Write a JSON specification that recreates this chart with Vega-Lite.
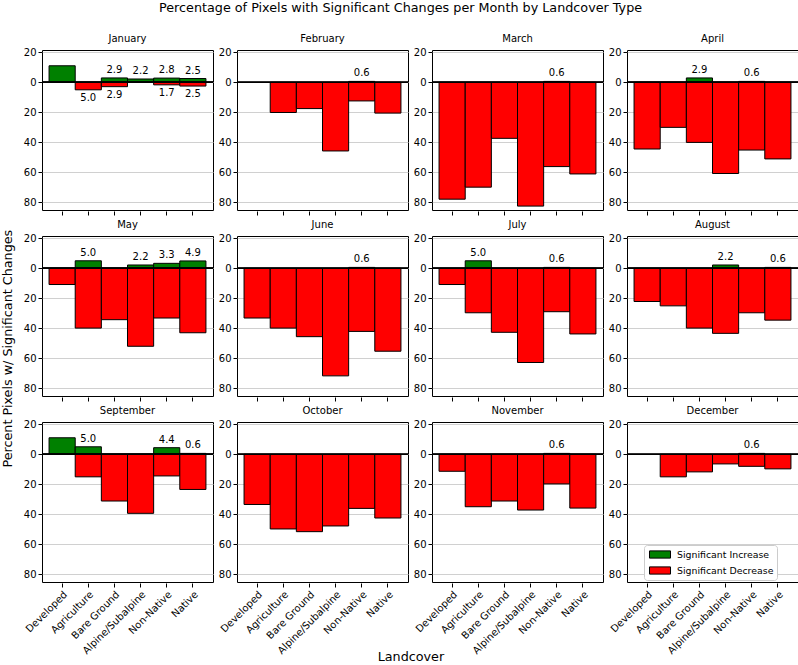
{
  "$schema": "https://vega.github.io/schema/vega-lite/v6.json",
  "padding": {"left": 2, "top": 2, "right": 0, "bottom": 0},
  "background": "white",
  "data": {"values": [
    {"month": "January", "landcover": "Developed", "change": "Significant Increase", "pct": 11.0},
    {"month": "January", "landcover": "Agriculture", "change": "Significant Decrease", "pct": -5.0},
    {"month": "January", "landcover": "Bare Ground", "change": "Significant Increase", "pct": 2.9},
    {"month": "January", "landcover": "Bare Ground", "change": "Significant Decrease", "pct": -2.9},
    {"month": "January", "landcover": "Alpine/Subalpine", "change": "Significant Increase", "pct": 2.2},
    {"month": "January", "landcover": "Non-Native", "change": "Significant Increase", "pct": 2.8},
    {"month": "January", "landcover": "Non-Native", "change": "Significant Decrease", "pct": -1.7},
    {"month": "January", "landcover": "Native", "change": "Significant Increase", "pct": 2.5},
    {"month": "January", "landcover": "Native", "change": "Significant Decrease", "pct": -2.5},
    {"month": "February", "landcover": "Agriculture", "change": "Significant Decrease", "pct": -20.1},
    {"month": "February", "landcover": "Bare Ground", "change": "Significant Decrease", "pct": -17.5},
    {"month": "February", "landcover": "Alpine/Subalpine", "change": "Significant Decrease", "pct": -45.7},
    {"month": "February", "landcover": "Non-Native", "change": "Significant Increase", "pct": 0.6},
    {"month": "February", "landcover": "Non-Native", "change": "Significant Decrease", "pct": -12.4},
    {"month": "February", "landcover": "Native", "change": "Significant Decrease", "pct": -20.5},
    {"month": "March", "landcover": "Developed", "change": "Significant Decrease", "pct": -77.8},
    {"month": "March", "landcover": "Agriculture", "change": "Significant Decrease", "pct": -69.8},
    {"month": "March", "landcover": "Bare Ground", "change": "Significant Decrease", "pct": -37.3},
    {"month": "March", "landcover": "Alpine/Subalpine", "change": "Significant Decrease", "pct": -82.4},
    {"month": "March", "landcover": "Non-Native", "change": "Significant Increase", "pct": 0.6},
    {"month": "March", "landcover": "Non-Native", "change": "Significant Decrease", "pct": -56.1},
    {"month": "March", "landcover": "Native", "change": "Significant Decrease", "pct": -61.0},
    {"month": "April", "landcover": "Developed", "change": "Significant Decrease", "pct": -44.4},
    {"month": "April", "landcover": "Agriculture", "change": "Significant Decrease", "pct": -30.0},
    {"month": "April", "landcover": "Bare Ground", "change": "Significant Increase", "pct": 2.9},
    {"month": "April", "landcover": "Bare Ground", "change": "Significant Decrease", "pct": -40.0},
    {"month": "April", "landcover": "Alpine/Subalpine", "change": "Significant Decrease", "pct": -60.7},
    {"month": "April", "landcover": "Non-Native", "change": "Significant Increase", "pct": 0.6},
    {"month": "April", "landcover": "Non-Native", "change": "Significant Decrease", "pct": -45.1},
    {"month": "April", "landcover": "Native", "change": "Significant Decrease", "pct": -51.0},
    {"month": "May", "landcover": "Developed", "change": "Significant Decrease", "pct": -10.8},
    {"month": "May", "landcover": "Agriculture", "change": "Significant Increase", "pct": 5.0},
    {"month": "May", "landcover": "Agriculture", "change": "Significant Decrease", "pct": -39.8},
    {"month": "May", "landcover": "Bare Ground", "change": "Significant Decrease", "pct": -34.2},
    {"month": "May", "landcover": "Alpine/Subalpine", "change": "Significant Increase", "pct": 2.2},
    {"month": "May", "landcover": "Alpine/Subalpine", "change": "Significant Decrease", "pct": -51.9},
    {"month": "May", "landcover": "Non-Native", "change": "Significant Increase", "pct": 3.3},
    {"month": "May", "landcover": "Non-Native", "change": "Significant Decrease", "pct": -33.1},
    {"month": "May", "landcover": "Native", "change": "Significant Increase", "pct": 4.9},
    {"month": "May", "landcover": "Native", "change": "Significant Decrease", "pct": -42.9},
    {"month": "June", "landcover": "Developed", "change": "Significant Decrease", "pct": -33.1},
    {"month": "June", "landcover": "Agriculture", "change": "Significant Decrease", "pct": -39.8},
    {"month": "June", "landcover": "Bare Ground", "change": "Significant Decrease", "pct": -45.5},
    {"month": "June", "landcover": "Alpine/Subalpine", "change": "Significant Decrease", "pct": -71.6},
    {"month": "June", "landcover": "Non-Native", "change": "Significant Increase", "pct": 0.6},
    {"month": "June", "landcover": "Non-Native", "change": "Significant Decrease", "pct": -42.0},
    {"month": "June", "landcover": "Native", "change": "Significant Decrease", "pct": -55.2},
    {"month": "July", "landcover": "Developed", "change": "Significant Decrease", "pct": -10.8},
    {"month": "July", "landcover": "Agriculture", "change": "Significant Increase", "pct": 5.0},
    {"month": "July", "landcover": "Agriculture", "change": "Significant Decrease", "pct": -29.6},
    {"month": "July", "landcover": "Bare Ground", "change": "Significant Decrease", "pct": -42.6},
    {"month": "July", "landcover": "Alpine/Subalpine", "change": "Significant Decrease", "pct": -62.7},
    {"month": "July", "landcover": "Non-Native", "change": "Significant Increase", "pct": 0.6},
    {"month": "July", "landcover": "Non-Native", "change": "Significant Decrease", "pct": -28.9},
    {"month": "July", "landcover": "Native", "change": "Significant Decrease", "pct": -43.7},
    {"month": "August", "landcover": "Developed", "change": "Significant Decrease", "pct": -22.1},
    {"month": "August", "landcover": "Agriculture", "change": "Significant Decrease", "pct": -25.0},
    {"month": "August", "landcover": "Bare Ground", "change": "Significant Decrease", "pct": -39.8},
    {"month": "August", "landcover": "Alpine/Subalpine", "change": "Significant Increase", "pct": 2.2},
    {"month": "August", "landcover": "Alpine/Subalpine", "change": "Significant Decrease", "pct": -43.3},
    {"month": "August", "landcover": "Non-Native", "change": "Significant Decrease", "pct": -29.6},
    {"month": "August", "landcover": "Native", "change": "Significant Increase", "pct": 0.6},
    {"month": "August", "landcover": "Native", "change": "Significant Decrease", "pct": -34.5},
    {"month": "September", "landcover": "Developed", "change": "Significant Increase", "pct": 11.0},
    {"month": "September", "landcover": "Agriculture", "change": "Significant Increase", "pct": 5.0},
    {"month": "September", "landcover": "Agriculture", "change": "Significant Decrease", "pct": -15.0},
    {"month": "September", "landcover": "Bare Ground", "change": "Significant Decrease", "pct": -31.1},
    {"month": "September", "landcover": "Alpine/Subalpine", "change": "Significant Decrease", "pct": -39.3},
    {"month": "September", "landcover": "Non-Native", "change": "Significant Increase", "pct": 4.4},
    {"month": "September", "landcover": "Non-Native", "change": "Significant Decrease", "pct": -14.4},
    {"month": "September", "landcover": "Native", "change": "Significant Increase", "pct": 0.6},
    {"month": "September", "landcover": "Native", "change": "Significant Decrease", "pct": -23.4},
    {"month": "October", "landcover": "Developed", "change": "Significant Decrease", "pct": -33.4},
    {"month": "October", "landcover": "Agriculture", "change": "Significant Decrease", "pct": -49.7},
    {"month": "October", "landcover": "Bare Ground", "change": "Significant Decrease", "pct": -51.5},
    {"month": "October", "landcover": "Alpine/Subalpine", "change": "Significant Decrease", "pct": -47.7},
    {"month": "October", "landcover": "Non-Native", "change": "Significant Decrease", "pct": -36.0},
    {"month": "October", "landcover": "Native", "change": "Significant Decrease", "pct": -42.4},
    {"month": "November", "landcover": "Developed", "change": "Significant Decrease", "pct": -11.3},
    {"month": "November", "landcover": "Agriculture", "change": "Significant Decrease", "pct": -34.9},
    {"month": "November", "landcover": "Bare Ground", "change": "Significant Decrease", "pct": -31.1},
    {"month": "November", "landcover": "Alpine/Subalpine", "change": "Significant Decrease", "pct": -37.1},
    {"month": "November", "landcover": "Non-Native", "change": "Significant Increase", "pct": 0.6},
    {"month": "November", "landcover": "Non-Native", "change": "Significant Decrease", "pct": -19.7},
    {"month": "November", "landcover": "Native", "change": "Significant Decrease", "pct": -35.8},
    {"month": "December", "landcover": "Agriculture", "change": "Significant Decrease", "pct": -15.0},
    {"month": "December", "landcover": "Bare Ground", "change": "Significant Decrease", "pct": -11.7},
    {"month": "December", "landcover": "Alpine/Subalpine", "change": "Significant Decrease", "pct": -6.4},
    {"month": "December", "landcover": "Non-Native", "change": "Significant Increase", "pct": 0.6},
    {"month": "December", "landcover": "Non-Native", "change": "Significant Decrease", "pct": -8.0},
    {"month": "December", "landcover": "Native", "change": "Significant Decrease", "pct": -9.7}
  ]},
  "title": {"text": "Percentage of Pixels with Significant Changes per Month by Landcover Type", "fontSize": 12.75, "fontWeight": "normal", "anchor": "middle", "color": "black", "offset": 19},
  "vconcat": [{
    "title": {"text": "Percent Pixels w/ Significant Changes", "orient": "left", "fontSize": 12.75, "fontWeight": "normal", "anchor": "middle", "color": "black", "offset": 8},
    "vconcat": [{
      "title": {"text": "Landcover", "orient": "bottom", "fontSize": 12.75, "fontWeight": "normal", "anchor": "middle", "color": "black", "offset": -5},
      "spacing": 4,
      "vconcat": [
        {
          "transform": [{"filter": {"field": "month", "oneOf": ["January", "February", "March", "April"]}}],
          "facet": {"column": {"field": "month", "type": "nominal", "title": null, "sort": ["January", "February", "March", "April"]}},
          "spacing": 2,
          "resolve": {"axis": {"y": "independent"}},
          "spec": {
            "width": 171, "height": 160,
            "encoding": {
              "x": {"field": "landcover", "type": "nominal", "sort": ["Developed", "Agriculture", "Bare Ground", "Alpine/Subalpine", "Non-Native", "Native"], "scale": {"paddingInner": 0, "paddingOuter": 0.27}, "axis": {"title": null, "labels": false, "domain": false, "grid": false}},
              "y": {"field": "pct", "type": "quantitative", "stack": null, "scale": {"domain": [-85, 21.5], "nice": false, "zero": false}, "axis": {"title": null, "values": [20, 0, -20, -40, -60, -80], "labelExpr": "abs(datum.value)", "grid": true, "domain": false}}
            },
            "layer": [
              {"mark": {"type": "bar", "stroke": "black", "strokeWidth": 1},
               "encoding": {
                 "color": {"field": "change", "type": "nominal", "scale": {"domain": ["Significant Increase", "Significant Decrease"], "range": ["#008000", "#ff0000"]}}
               }},
              {"mark": {"type": "rule", "color": "black", "strokeWidth": 1.2}, "encoding": {"y": {"datum": 0, "type": "quantitative", "axis": {"title": null, "values": [20, 0, -20, -40, -60, -80], "labelExpr": "abs(datum.value)", "grid": true, "domain": false}}, "x": null}},
              {"transform": [{"filter": "abs(datum.pct) <= 5"}],
               "mark": {"type": "text", "fontSize": 10, "color": "black", "baseline": {"expr": "datum.pct > 0 ? 'bottom' : 'top'"}, "dy": {"expr": "datum.pct > 0 ? -3 : 3"}, "text": {"expr": "format(abs(datum.pct), '.1f')"}}}
            ]
          }
        },
        {
          "transform": [{"filter": {"field": "month", "oneOf": ["May", "June", "July", "August"]}}],
          "facet": {"column": {"field": "month", "type": "nominal", "title": null, "sort": ["May", "June", "July", "August"]}},
          "spacing": 2,
          "resolve": {"axis": {"y": "independent"}},
          "spec": {
            "width": 171, "height": 160,
            "encoding": {
              "x": {"field": "landcover", "type": "nominal", "sort": ["Developed", "Agriculture", "Bare Ground", "Alpine/Subalpine", "Non-Native", "Native"], "scale": {"paddingInner": 0, "paddingOuter": 0.27}, "axis": {"title": null, "labels": false, "domain": false, "grid": false}},
              "y": {"field": "pct", "type": "quantitative", "stack": null, "scale": {"domain": [-85, 21.5], "nice": false, "zero": false}, "axis": {"title": null, "values": [20, 0, -20, -40, -60, -80], "labelExpr": "abs(datum.value)", "grid": true, "domain": false}}
            },
            "layer": [
              {"mark": {"type": "bar", "stroke": "black", "strokeWidth": 1},
               "encoding": {
                 "color": {"field": "change", "type": "nominal", "scale": {"domain": ["Significant Increase", "Significant Decrease"], "range": ["#008000", "#ff0000"]}}
               }},
              {"mark": {"type": "rule", "color": "black", "strokeWidth": 1.2}, "encoding": {"y": {"datum": 0, "type": "quantitative", "axis": {"title": null, "values": [20, 0, -20, -40, -60, -80], "labelExpr": "abs(datum.value)", "grid": true, "domain": false}}, "x": null}},
              {"transform": [{"filter": "abs(datum.pct) <= 5"}],
               "mark": {"type": "text", "fontSize": 10, "color": "black", "baseline": {"expr": "datum.pct > 0 ? 'bottom' : 'top'"}, "dy": {"expr": "datum.pct > 0 ? -3 : 3"}, "text": {"expr": "format(abs(datum.pct), '.1f')"}}}
            ]
          }
        },
        {
          "transform": [{"filter": {"field": "month", "oneOf": ["September", "October", "November", "December"]}}],
          "facet": {"column": {"field": "month", "type": "nominal", "title": null, "sort": ["September", "October", "November", "December"]}},
          "spacing": 2,
          "resolve": {"axis": {"y": "independent"}},
          "spec": {
            "width": 171, "height": 160,
            "encoding": {
              "x": {"field": "landcover", "type": "nominal", "sort": ["Developed", "Agriculture", "Bare Ground", "Alpine/Subalpine", "Non-Native", "Native"], "scale": {"paddingInner": 0, "paddingOuter": 0.27}, "axis": {"title": null, "labelAngle": -45, "domain": false, "grid": false}},
              "y": {"field": "pct", "type": "quantitative", "stack": null, "scale": {"domain": [-85, 21.5], "nice": false, "zero": false}, "axis": {"title": null, "values": [20, 0, -20, -40, -60, -80], "labelExpr": "abs(datum.value)", "grid": true, "domain": false}}
            },
            "layer": [
              {"mark": {"type": "bar", "stroke": "black", "strokeWidth": 1},
               "encoding": {
                 "color": {"field": "change", "type": "nominal", "scale": {"domain": ["Significant Increase", "Significant Decrease"], "range": ["#008000", "#ff0000"]}}
               }},
              {"mark": {"type": "rule", "color": "black", "strokeWidth": 1.2}, "encoding": {"y": {"datum": 0, "type": "quantitative", "axis": {"title": null, "values": [20, 0, -20, -40, -60, -80], "labelExpr": "abs(datum.value)", "grid": true, "domain": false}}, "x": null}},
              {"transform": [{"filter": "abs(datum.pct) <= 5"}],
               "mark": {"type": "text", "fontSize": 10, "color": "black", "baseline": {"expr": "datum.pct > 0 ? 'bottom' : 'top'"}, "dy": {"expr": "datum.pct > 0 ? -3 : 3"}, "text": {"expr": "format(abs(datum.pct), '.1f')"}}}
            ]
          }
        }
      ]
    }]
  }],
  "config": {
    "font": "DejaVu Sans",
    "view": {"stroke": "black", "strokeWidth": 1},
    "axis": {"labelFontSize": 10, "labelColor": "black", "tickColor": "black", "tickSize": 4, "labelPadding": 2, "labelOverlap": false, "labelFlush": false, "gridColor": "#d0d0d0", "gridWidth": 1, "gridOpacity": 1},
    "header": {"labelFontSize": 10, "labelFontWeight": "normal", "labelColor": "black", "labelPadding": 2},
    "legend": {"orient": "none", "legendX": 602, "legendY": 495, "title": null, "labelFontSize": 9.4, "labelColor": "black", "symbolType": "M-1.75,-0.6H1.75V0.6H-1.75Z", "symbolSize": 144, "symbolOffset": 6.5, "symbolStrokeColor": "black", "symbolStrokeWidth": 1, "strokeColor": "#cccccc", "fillColor": "white", "padding": 3, "cornerRadius": 3, "rowPadding": 3, "labelOffset": 10.5}
  }
}
